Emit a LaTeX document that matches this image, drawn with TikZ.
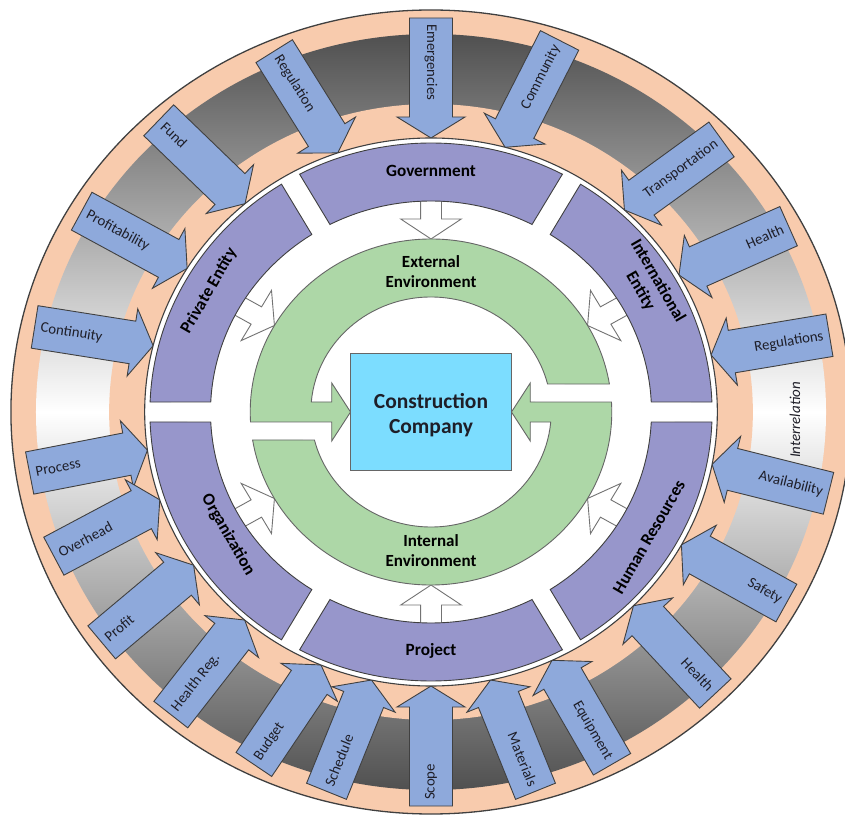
\documentclass[tikz,border=0pt]{standalone}
\usepackage{fontspec}
\setmainfont{Carlito}
\usetikzlibrary{calc}
\definecolor{peach}{RGB}{248,203,173}
\definecolor{purpc}{RGB}{151,150,203}
\definecolor{arrblue}{RGB}{142,169,219}
\definecolor{greenc}{RGB}{173,215,167}
\definecolor{cyanc}{RGB}{124,221,255}
\definecolor{gdark}{RGB}{80,80,80}
\definecolor{lineg}{RGB}{64,64,64}
\definecolor{textc}{RGB}{30,30,40}
\tikzset{
 bluearr/.style={fill=arrblue, draw=lineg, line width=0.9, line join=miter},
 bluelbl/.style={font=\fontsize{14.8}{17}\selectfont, text=textc, inner sep=2pt},
 hollowarr/.style={fill=white, draw=black!55, line width=0.9},
 purpseg/.style={fill=purpc, draw=lineg, line width=0.9},
 greenseg/.style={fill=greenc, draw=black!60, line width=0.9},
 seglbl/.style={font=\bfseries\fontsize{17.2}{20}\selectfont, text=black, align=center, inner sep=1pt},
 envlbl/.style={font=\bfseries\fontsize{17}{20}\selectfont, text=black, align=center, inner sep=1pt},
}
\newcommand{\barrow}[6]{%
 \path (C) ++({1.045*274*cos(#2)},{274*sin(#2)}) coordinate (#1tip);
 \begin{scope}[shift={(#1tip)}, rotate=#3]
   \draw[bluearr] (0,0) -- (21,34) -- (21,21.5) -- (120,21.5) -- (120,-21.5) -- (21,-21.5) -- (21,-34) -- cycle;
   \node[bluelbl, rotate=#6, anchor=#5] (#1) at (116,0) {#4};
 \end{scope}}
\newcommand{\pseg}[2]{%
 \draw[purpseg] ({#1+2.13}:269) arc[start angle={#1+2.13}, end angle={#2-2.13}, radius=269]
   -- ({#2-2.72}:211) arc[start angle={#2-2.72}, end angle={#1+2.72}, radius=211] -- cycle;}
\begin{document}
\begin{tikzpicture}[x=1pt,y=1pt]
\useasboundingbox (0,0) rectangle (845,814);
\fill[white] (0,0) rectangle (845,814);
\coordinate (C) at (431,402);
\begin{scope}[shift={(C)}, xscale=1.045]
 \draw[line width=1.3, draw=lineg, fill=peach] (0,0) circle[radius=402];
 \shade[top color=gdark, bottom color=gdark, middle color=white] (0,0) circle[radius=378];
 \fill[peach] (0,0) circle[radius=308];
\end{scope}
% blue arrows, left side
\barrow{emer}{90}{90}{Emergencies}{west}{-90}
\barrow{regn}{109}{122}{Regulation}{west}{-58}
\barrow{fund}{130.5}{136}{Fund}{west}{-44}
\barrow{profy}{148.4}{151.5}{Profitability}{west}{-28.5}
\barrow{cont}{166}{171}{Continuity}{west}{-9}
\barrow{proc}{188}{191}{Process}{west}{11}
\barrow{over}{198.7}{208}{Overhead}{west}{28}
\barrow{prof}{214}{220}{Profit}{west}{40}
\barrow{hreg}{229.4}{232}{Health Reg.}{west}{52}
\barrow{budg}{247.4}{236}{Budget}{west}{56}
\barrow{sched}{258}{248}{Schedule}{west}{68}
\barrow{scope}{270}{270}{Scope}{west}{90}
% right side
\barrow{mat}{282}{292}{Materials}{east}{292}
\barrow{equip}{295}{300}{Equipment}{east}{300}
\barrow{hlthA}{315}{313}{Health}{east}{313}
\barrow{safe}{331}{331}{Safety}{east}{331}
\barrow{avail}{349}{346}{Availability}{east}{346}
\barrow{regs}{12}{9.5}{Regulations}{east}{9.5}
\barrow{hlthB}{30}{24}{Health}{east}{24}
\barrow{trans}{47.5}{36}{Transportation}{east}{36}
\barrow{comm}{75}{63}{Community}{east}{63}
\begin{scope}[shift={(C)}, xscale=1.045]
 \draw[line width=1.1, draw=lineg, fill=white] (0,0) circle[radius=274];
 \foreach \a in {30,90,150,210,270,330}{
   \draw[hollowarr, rotate=\a] (173,0) -- (193,29) -- (193,10) -- (215,10) -- (215,-10) -- (193,-10) -- (193,-29) -- cycle;}
 \pseg{0}{60}
 \pseg{60}{120}
 \pseg{120}{180}
 \pseg{180}{240}
 \pseg{240}{300}
 \pseg{300}{360}
 \draw[greenseg] (183.3:173) -- (-95,-10) -- (-95,-29) -- (-77,0) -- (-95,29) -- (-95,10) -- (175:115)
   arc[start angle=175, end angle=14.1, radius=115] -- (9.3:173) arc[start angle=9.3, end angle=183.3, radius=173] -- cycle;
 \begin{scope}[rotate=180]
 \draw[greenseg] (183.3:173) -- (-95,-10) -- (-95,-29) -- (-77,0) -- (-95,29) -- (-95,10) -- (175:115)
   arc[start angle=175, end angle=14.1, radius=115] -- (9.3:173) arc[start angle=9.3, end angle=183.3, radius=173] -- cycle;
 \end{scope}
\end{scope}
\node[draw=black!60, fill=cyanc, line width=0.9, minimum width=161pt, minimum height=117pt] (box) at (C) {};
\node[font=\bfseries\fontsize{21.5}{25}\selectfont, align=center, text=textc] (boxtxt) at (431,399) {Construction\\Company};
\node[seglbl] (gov) at (431,643) {Government};
\node[seglbl] (proj) at (431,163) {Project};
\node[seglbl, rotate=60] (priv) at (209,523) {Private Entity};
\node[seglbl, rotate=-60] (intl) at (649,528) {International\\Entity};
\node[seglbl, rotate=-60] (org) at (228,279) {Organization};
\node[seglbl, rotate=60] (hr) at (649,277) {Human Resources};
\node[envlbl] (ext) at (431,542) {External\\Environment};
\node[envlbl] (int) at (431,263) {Internal\\Environment};
\node[font=\itshape\fontsize{15}{17}\selectfont, rotate=90, text=textc] (inter) at (795,394) {Interrelation};
\end{tikzpicture}
\end{document}
